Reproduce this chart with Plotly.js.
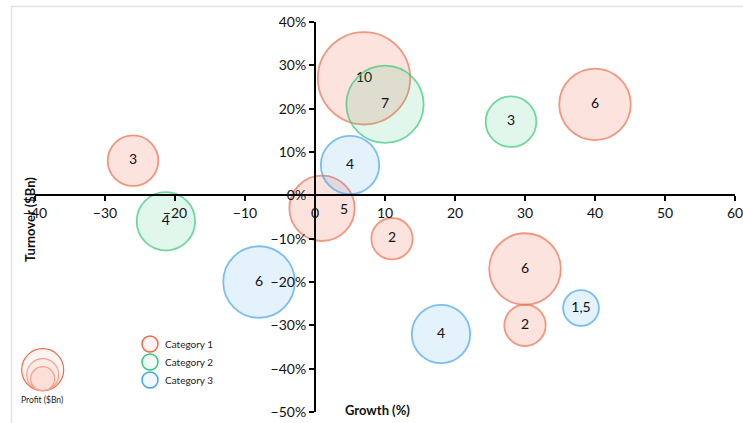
<!DOCTYPE html>
<html>
<head>
<meta charset="utf-8">
<script src="https://cdn.plot.ly/plotly-3.0.1.min.js"></script>
<style>
html,body{margin:0;padding:0;background:#fff;}
#chart{width:743px;height:423px;}
</style>
</head>
<body>
<div id="chart"></div>
<script>
// ---- data ----
var cat1Growth   = [7, -26, 40, 1, 11, 30, 30];
var cat1Turnover = [0.27, 0.08, 0.21, -0.03, -0.10, -0.17, -0.30];
var cat1Profit   = [10, 3, 6, 5, 2, 6, 2];
var cat1Labels   = ["10", "3", "6", "5", "2", "6", "2"];

var cat2Growth   = [10, 28, -21.3];
var cat2Turnover = [0.21, 0.17, -0.06];
var cat2Profit   = [7, 3, 4];
var cat2Labels   = ["7", "3", "4"];

var cat3Growth   = [5, -8, 18, 38];
var cat3Turnover = [0.07, -0.20, -0.32, -0.26];
var cat3Profit   = [4, 6, 4, 1.5];
var cat3Labels   = ["4", "6", "4", "1,5"];

var seriesNames = ["Category 1", "Category 2", "Category 3"];
var xTickVals = [-40, -30, -20, -10, 0, 10, 20, 30, 40, 50, 60];
var yTickVals = [-0.5, -0.4, -0.3, -0.2, -0.1, 0, 0.1, 0.2, 0.3, 0.4];

// ---- styles ----
var strokeCols = ["#EE6A48", "#35C779", "#40A3EE"];
var fillCols = ["rgba(238,106,72,0.26)", "rgba(53,199,121,0.2)", "rgba(64,163,238,0.2)"];
var legFill = ["rgba(238,106,72,0.07)", "rgba(53,199,121,0.07)", "rgba(64,163,238,0.07)"];
var labelShift1 = [0, 0, 0, 22, 0, 0, 0];
var FONT = "Lato, 'Open Sans', sans-serif";

var W = 743, H = 423, L = 35, R = 8, T = 22, B = 11;
var pw = W - L - R, ph = H - T - B;
function px(x){ return (x - L) / pw; }
function py(y){ return (H - B - y) / ph; }

var sizeRef = 1 / (2 * 14.6 * 14.6);

function mk(xs, ys, sz, lbls, i){
  return {
    type: "scatter", mode: "markers+text",
    x: xs, y: ys, text: lbls, name: seriesNames[i],
    textposition: "middle center",
    textfont: {family: FONT, size: 14, color: "#111"},
    marker: {size: sz, sizemode: "area", sizeref: sizeRef,
             color: fillCols[i], line: {color: strokeCols[i], width: 1.8}},
    hoverinfo: "x+y+text", showlegend: false
  };
}

var t1 = mk(cat1Growth, cat1Turnover, cat1Profit, cat1Labels.map(function(s, k){ return labelShift1[k] ? "" : s; }), 0);
var t2 = mk(cat2Growth, cat2Turnover, cat2Profit, cat2Labels, 1);
var t3 = mk(cat3Growth, cat3Turnover, cat3Profit, cat3Labels, 2);

var annotations = [];
cat1Labels.forEach(function(s, k){
  if (labelShift1[k]) {
    annotations.push({x: cat1Growth[k], y: cat1Turnover[k], xref: "x", yref: "y", text: s,
      xanchor: "center", yanchor: "middle",
      showarrow: false, xshift: labelShift1[k], font: {family: FONT, size: 14, color: "#111"}});
  }
});

annotations.push({xref: "paper", yref: "paper", x: px(377), y: py(410), xanchor: "center", yanchor: "middle",
  text: "<b>Growth (%)</b>", showarrow: false, font: {family: FONT, size: 13, color: "#111"}});
annotations.push({xref: "paper", yref: "paper", x: px(30), y: py(220), xanchor: "center", yanchor: "middle",
  text: "<b>Turnover ($Bn)</b>", textangle: -90, showarrow: false, font: {family: FONT, size: 13, color: "#111"}});

var shapes = [];
// border
shapes.push({type: "line", xref: "paper", yref: "paper", x0: px(11), x1: px(760), y0: py(6.5), y1: py(6.5),
  line: {color: "#e2e2e2", width: 1.5}});
shapes.push({type: "line", xref: "paper", yref: "paper", x0: px(11.5), x1: px(11.5), y0: py(6), y1: py(440),
  line: {color: "#e2e2e2", width: 1.5}});

// category legend
var legY = [344, 362, 380];
for (var i = 0; i < 3; i++) {
  shapes.push({type: "circle", xref: "paper", yref: "paper",
    x0: px(142), x1: px(158), y0: py(legY[i] - 8), y1: py(legY[i] + 8),
    fillcolor: legFill[i], line: {color: strokeCols[i], width: 1.5}});
  annotations.push({xref: "paper", yref: "paper", x: px(163), y: py(legY[i]), xanchor: "left", yanchor: "middle",
    text: seriesNames[i], showarrow: false, font: {family: FONT, size: 10, color: "#222"}});
}

// size legend
var szR = [21, 16, 12];
var szLine = ["#EE6A48", "#F3A08A", "#F3A08A"];
for (var j = 0; j < 3; j++) {
  shapes.push({type: "circle", xref: "paper", yref: "paper",
    x0: px(42.7 - szR[j]), x1: px(42.7 + szR[j]), y0: py(390.7), y1: py(390.7 - 2 * szR[j]),
    fillcolor: "rgba(238,106,72,0.07)", line: {color: szLine[j], width: 1.2}});
}
annotations.push({xref: "paper", yref: "paper", x: px(42), y: py(400), xanchor: "center", yanchor: "middle",
  text: "Profit ($Bn)", showarrow: false, font: {family: FONT, size: 8.5, color: "#222"}});

var layout = {
  width: W, height: H,
  margin: {l: L, r: R, t: T, b: B, pad: 0},
  paper_bgcolor: "#fff", plot_bgcolor: "rgba(0,0,0,0)",
  showlegend: false,
  xaxis: {range: [-40, 60], tickvals: xTickVals, anchor: "free", position: py(195),
    showline: true, linecolor: "#000", linewidth: 2, ticks: "outside", ticklen: 5, tickwidth: 2,
    tickcolor: "#000", showgrid: false, zeroline: false, ticklabeloverflow: "allow",
    tickfont: {family: FONT, size: 14, color: "#111"}},
  yaxis: {range: [-0.5, 0.4], tickvals: yTickVals, tickformat: ".0%", anchor: "free", position: px(315),
    showline: true, linecolor: "#000", linewidth: 2, ticks: "outside", ticklen: 5, tickwidth: 2,
    tickcolor: "#000", showgrid: false, zeroline: false, ticklabeloverflow: "allow",
    tickfont: {family: FONT, size: 14, color: "#111"}},
  shapes: shapes,
  annotations: annotations
};

Plotly.newPlot("chart", [t1, t2, t3], layout, {displayModeBar: false, staticPlot: true});
</script>
</body>
</html>
